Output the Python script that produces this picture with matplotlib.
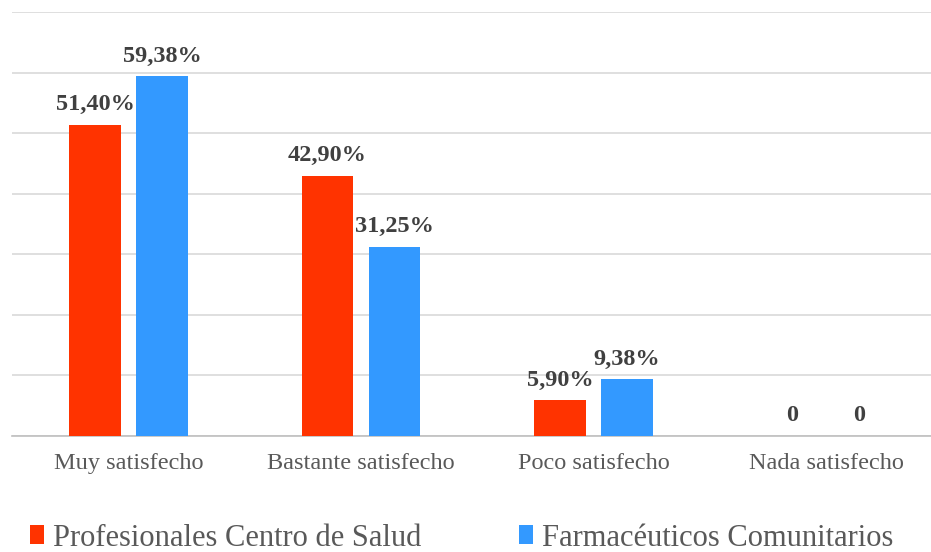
import matplotlib
matplotlib.use("Agg")
import matplotlib.pyplot as plt
import numpy as np
from matplotlib.patches import Patch

categories = ["Muy satisfecho", "Bastante satisfecho", "Poco satisfecho", "Nada satisfecho"]
profesionales = [51.40, 42.90, 5.90, 0]
farmaceuticos = [59.38, 31.25, 9.38, 0]
labels_prof = ["51,40%", "42,90%", "5,90%", "0"]
labels_farm = ["59,38%", "31,25%", "9,38%", "0"]
series_names = ["Profesionales Centro de Salud", "Farmacéuticos Comunitarios"]

RED = "#FF3300"
BLUE = "#3399FF"
TXT = "#404040"
SERIF = ["Liberation Serif", "DejaVu Serif"]

fig = plt.figure(figsize=(9.31, 5.52), dpi=100)
ax = fig.add_axes([12.25 / 931, 116 / 552, 930 / 931, 424 / 552])

x = np.arange(len(categories))
w = 0.223
off = 0.144
b1 = ax.bar(x - off, profesionales, w, color=RED, zorder=3)
b2 = ax.bar(x + off, farmaceuticos, w, color=BLUE, zorder=3)

for bars, labs in ((b1, labels_prof), (b2, labels_farm)):
    for rect, lab in zip(bars, labs):
        ax.annotate(lab, (rect.get_x() + rect.get_width() / 2, rect.get_height()),
                    xytext=(0, 7), textcoords="offset points", ha="center", va="bottom",
                    fontsize=17.5, fontweight="bold", color=TXT, family=SERIF)

ax.set_xlim(-0.5, len(categories) - 0.5)
ax.set_ylim(0, 70)
ax.set_yticks(np.arange(0, 71, 10))
ax.yaxis.grid(True, color="#d9d9d9", linewidth=1.2, zorder=0)
ax.tick_params(axis="y", left=False, labelleft=False)
ax.tick_params(axis="x", length=0, pad=12)
ax.set_xticks(x)
ax.set_xticklabels(categories, fontsize=17.5, color="#595959", family=SERIF)
for s in ["top", "right", "left"]:
    ax.spines[s].set_visible(False)
ax.spines["bottom"].set_color("#bfbfbf")
ax.spines["bottom"].set_linewidth(1.2)

handles = [Patch(facecolor=RED), Patch(facecolor=BLUE)]
leg = fig.legend(handles, series_names, loc="center left", bbox_to_anchor=(30 / 931, 1 - 538 / 552),
                 ncol=2, frameon=False, handlelength=0.45, handleheight=0.6, handletextpad=0.3,
                 columnspacing=3.2, prop={"family": SERIF, "size": 22}, borderpad=0,
                 borderaxespad=0)
for t in leg.get_texts():
    t.set_color("#595959")

fig.savefig("out.png", dpi=100)
